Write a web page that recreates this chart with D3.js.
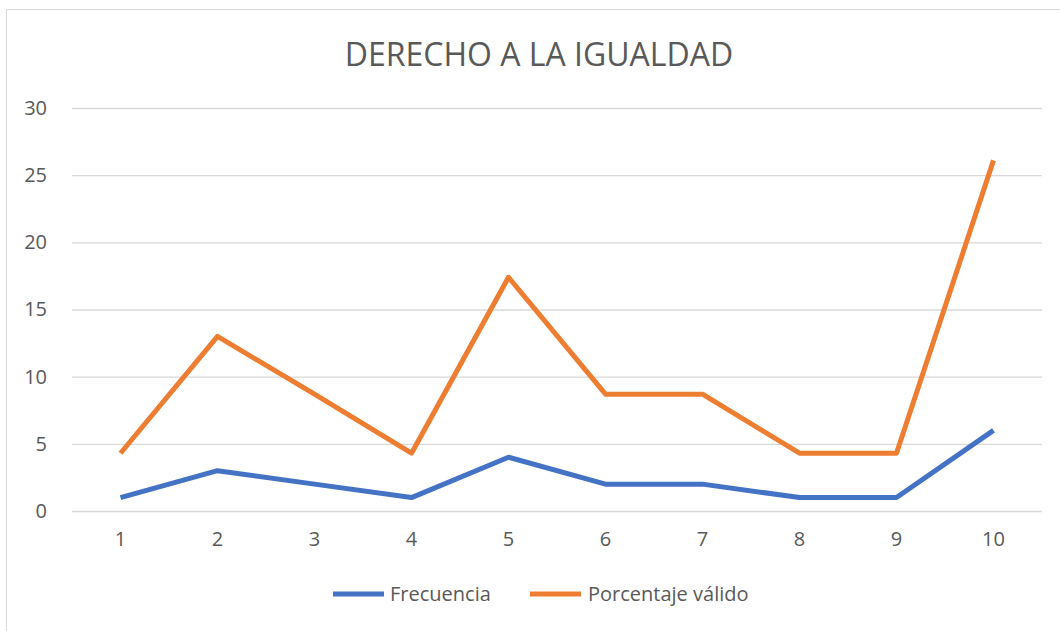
<!DOCTYPE html>
<html>
<head>
<meta charset="utf-8">
<script src="https://cdn.jsdelivr.net/npm/d3@7"></script>
<style>
  body { margin: 0; background: #fff; }
  svg { display: block; font-family: "Open Sans", sans-serif; }
</style>
</head>
<body>
<svg id="chart" width="1060" height="631"></svg>
<script>
// --- Data ---

const categories = ["1", "2", "3", "4", "5", "6", "7", "8", "9", "10"];
const frecuencia = [1, 3, 2, 1, 4, 2, 2, 1, 1, 6];
const porcentaje = [4.3, 13.0, 8.7, 4.3, 17.4, 8.7, 8.7, 4.3, 4.3, 26.1];
const yTicks = [0, 5, 10, 15, 20, 25, 30];

const SERIES = [
  { name: "Frecuencia", values: frecuencia, color: "#4472C4" },
  { name: "Porcentaje válido", values: porcentaje, color: "#ED7D31" },
];

// --- Chart ---

const svg = d3.select("#chart");
const plot = { left: 72, right: 1042, top: 108, bottom: 511 };

// outer frame
svg.append("rect")
  .attr("x", 6.5).attr("y", 9.5)
  .attr("width", 1070).attr("height", 640)
  .attr("fill", "#fff")
  .attr("stroke", "#d9d9d9");

const x = d3.scaleBand().domain(categories).range([plot.left, plot.right]);
const y = d3.scaleLinear().domain([0, 30]).range([plot.bottom, plot.top]);

// Title
svg.append("text")
  .attr("x", 539).attr("y", 66)
  .attr("text-anchor", "middle")
  .attr("font-size", 32)
  .attr("fill", "#595959")
  .text("DERECHO A LA IGUALDAD");

// Gridlines + y labels
const yAxis = svg.append("g")
  .attr("transform", `translate(${plot.left},0)`)
  .call(d3.axisLeft(y).tickValues(yTicks).tickSize(-(plot.right - plot.left)).tickPadding(25));
yAxis.select(".domain").remove();
yAxis.selectAll(".tick line").attr("stroke", "#d9d9d9").attr("stroke-width", 1.3);
yAxis.selectAll(".tick text")
  .attr("fill", "#595959")
  .attr("font-size", 20)
  .attr("font-family", "Open Sans, sans-serif");

// x labels
const xAxis = svg.append("g")
  .attr("transform", `translate(0,${plot.bottom})`)
  .call(d3.axisBottom(x).tickSize(0).tickPadding(21));
xAxis.select(".domain").remove();
xAxis.selectAll(".tick text")
  .attr("fill", "#595959")
  .attr("font-size", 20)
  .attr("font-family", "Open Sans, sans-serif");

// Lines
const line = d3.line()
  .x((d, i) => x(categories[i]) + x.bandwidth() / 2)
  .y((d) => y(d));

for (const s of SERIES) {
  svg.append("path")
    .datum(s.values)
    .attr("fill", "none")
    .attr("stroke", s.color)
    .attr("stroke-width", 5)
    .attr("stroke-linejoin", "round")
    .attr("d", line);
}

// Legend
const legendItems = [
  { x: 333, textX: 390 },
  { x: 530, textX: 588 },
];
SERIES.forEach((s, i) => {
  const g = svg.append("g");
  g.append("line")
    .attr("x1", legendItems[i].x).attr("x2", legendItems[i].x + 51)
    .attr("y1", 594).attr("y2", 594)
    .attr("stroke", s.color)
    .attr("stroke-width", 5);
  g.append("text")
    .attr("x", legendItems[i].textX).attr("y", 601)
    .attr("font-size", 20)
    .attr("fill", "#595959")
    .text(s.name);
});
</script>
</body>
</html>
